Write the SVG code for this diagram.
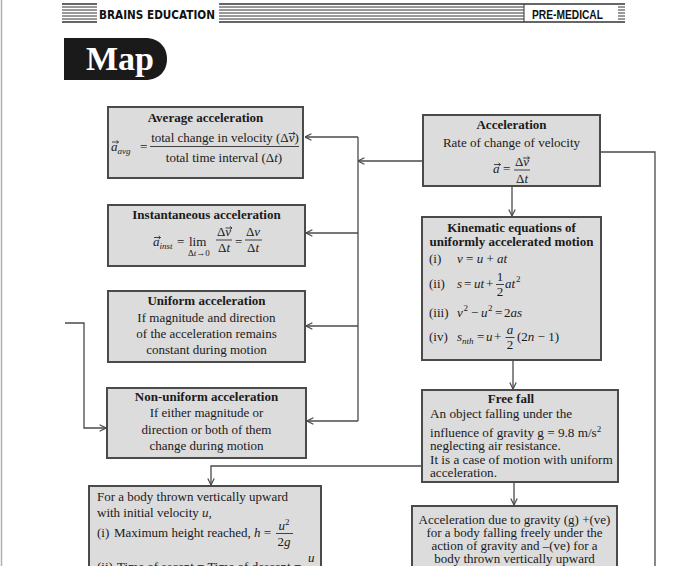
<svg xmlns="http://www.w3.org/2000/svg" xmlns:xlink="http://www.w3.org/1999/xlink" width="687" height="566" viewBox="0 0 687 566">
<style>
.box{fill:#dcdcdc;stroke:#4a4a4a;stroke-width:2}
.t{font-family:"Liberation Serif","Times New Roman",serif;font-size:13px;fill:#1a1a1a}
.ff{font-size:13.2px}
.b{font-weight:bold}
.i{font-style:italic}
.c{text-anchor:middle}
.s9{font-size:9px}
.conn{fill:none;stroke:#4a4a4a;stroke-width:1.3}
.bar{stroke:#1a1a1a;stroke-width:0.8}
.stripe{stroke:#333;stroke-width:1}
</style>
<defs>
<marker id="arr" viewBox="0 0 10 10" refX="10" refY="5" markerWidth="8" markerHeight="8" markerUnits="userSpaceOnUse" orient="auto">
<path d="M2,1 L10,5 L2,9" fill="none" stroke="#4a4a4a" stroke-width="1.5"/>
</marker>
<path id="vec" d="M0,0 H6.5 M4.6,-1.6 L6.5,0 L4.6,1.6" fill="none" stroke="#1a1a1a" stroke-width="0.8"/>
</defs>
<rect width="687" height="566" fill="#fff"/>
<line x1="1.5" y1="0" x2="1.5" y2="566" stroke="#b0b0b0" stroke-width="1.5"/>

<g id="header">
<g class="stripe">
<line x1="62" y1="4" x2="97" y2="4" stroke-width="1.6"/><line x1="62" y1="7" x2="97" y2="7"/><line x1="62" y1="10" x2="97" y2="10"/><line x1="62" y1="13" x2="97" y2="13"/><line x1="62" y1="16" x2="97" y2="16"/><line x1="62" y1="19" x2="97" y2="19"/><line x1="62" y1="22" x2="97" y2="22" stroke-width="1.6"/>
<line x1="219" y1="4" x2="625" y2="4" stroke-width="1.6"/><line x1="219" y1="7" x2="524" y2="7"/><line x1="219" y1="10" x2="524" y2="10"/><line x1="219" y1="13" x2="524" y2="13"/><line x1="219" y1="16" x2="524" y2="16"/><line x1="219" y1="19" x2="524" y2="19"/><line x1="219" y1="22" x2="625" y2="22" stroke-width="1.6"/>
<line x1="524" y1="4" x2="524" y2="22"/>
<line x1="618" y1="7" x2="625" y2="7"/><line x1="618" y1="10" x2="625" y2="10"/><line x1="618" y1="13" x2="625" y2="13"/><line x1="618" y1="16" x2="625" y2="16"/><line x1="618" y1="19" x2="625" y2="19"/>
</g>
<text x="99" y="19" font-family="DejaVu Sans, sans-serif" font-weight="bold" font-size="12" textLength="116" lengthAdjust="spacingAndGlyphs" fill="#111">BRAINS EDUCATION</text>
<text x="532" y="19" font-family="Liberation Sans, Arial, sans-serif" font-weight="bold" font-size="12" textLength="71" lengthAdjust="spacingAndGlyphs" fill="#111">PRE-MEDICAL</text>
</g>

<g id="map-title">
<path d="M64,38 H145 C160,38 167,48 167,59 C167,70 160,80 145,80 H64 Z" fill="#1a1a1a"/>
<text x="86" y="70" font-family="Liberation Serif, serif" font-weight="bold" font-size="34" fill="#fff">Map</text>
</g>

<g id="connectors">
<path class="conn" d="M423,161 H358" marker-end="url(#arr)"/>
<path class="conn" d="M358,137 V421"/>
<path class="conn" d="M358,137 H305" marker-end="url(#arr)"/>
<path class="conn" d="M358,233 H306" marker-end="url(#arr)"/>
<path class="conn" d="M358,326 H306" marker-end="url(#arr)"/>
<path class="conn" d="M358,421 H307" marker-end="url(#arr)"/>
<path class="conn" d="M512,186 V216" marker-end="url(#arr)"/>
<path class="conn" d="M513,360 V389" marker-end="url(#arr)"/>
<path class="conn" d="M514,482 V505" marker-end="url(#arr)"/>
<path class="conn" d="M422,466 H211 V485" marker-end="url(#arr)"/>
<path class="conn" d="M600,152 H655 V566"/>
<path class="conn" d="M65,323 H84 V428 H106" marker-end="url(#arr)"/>
</g>

<g id="average">
<rect class="box" x="108" y="107" width="195" height="71"/>
<text class="t b c" x="205.5" y="122">Average acceleration</text>
<text class="t i" x="111" y="151">a<tspan class="s9" dy="3">avg</tspan></text>
<text class="t" x="140" y="151">=</text>
<text class="t c" x="225" y="142">total change in velocity (Δ<tspan class="i">v</tspan>)</text>
<line class="bar" x1="150" y1="146.5" x2="299" y2="146.5"/>
<text class="t c" x="224" y="162">total time interval (Δ<tspan class="i">t</tspan>)</text>
<use xlink:href="#vec" x="112" y="142"/>
<use xlink:href="#vec" x="288.5" y="133.5"/>
</g>

<g id="instantaneous">
<rect class="box" x="108" y="205" width="197" height="61"/>
<text class="t b c" x="206.5" y="219">Instantaneous acceleration</text>
<text class="t i" x="153" y="246">a<tspan class="s9" dy="3">inst</tspan></text>
<text class="t" x="177" y="246">=</text>
<text class="t" x="189" y="246">lim</text>
<text class="t s9" x="188" y="256">Δ<tspan class="i">t</tspan>→0</text>
<text class="t c" x="224" y="236">Δ<tspan class="i">v</tspan></text>
<line class="bar" x1="216" y1="240" x2="232" y2="240"/>
<text class="t c" x="224" y="252">Δ<tspan class="i">t</tspan></text>
<text class="t" x="235" y="246">=</text>
<text class="t c" x="253" y="236">Δ<tspan class="i">v</tspan></text>
<line class="bar" x1="245" y1="240" x2="262" y2="240"/>
<text class="t c" x="253" y="252">Δ<tspan class="i">t</tspan></text>
<use xlink:href="#vec" x="154" y="237.5"/>
<use xlink:href="#vec" x="225.5" y="228"/>
</g>

<g id="uniform">
<rect class="box" x="108" y="291" width="197" height="71"/>
<text class="t b c" x="206.5" y="305">Uniform acceleration</text>
<text class="t c" x="206.5" y="322">If magnitude and direction</text>
<text class="t c" x="206.5" y="338">of the acceleration remains</text>
<text class="t c" x="206.5" y="354">constant during motion</text>
</g>

<g id="nonuniform">
<rect class="box" x="107" y="388" width="199" height="70"/>
<text class="t b c" x="206.5" y="401">Non-uniform acceleration</text>
<text class="t c" x="206.5" y="417">If either magnitude or</text>
<text class="t c" x="206.5" y="434">direction or both of them</text>
<text class="t c" x="206.5" y="450">change during motion</text>
</g>

<g id="acceleration">
<rect class="box" x="423" y="115" width="177" height="71"/>
<text class="t b c" x="511.5" y="129">Acceleration</text>
<text class="t c" x="511.5" y="147">Rate of change of velocity</text>
<text class="t i" x="493" y="173">a</text>
<text class="t" x="503" y="173">=</text>
<text class="t c" x="522" y="166">Δ<tspan class="i">v</tspan></text>
<line class="bar" x1="514" y1="170" x2="530" y2="170"/>
<text class="t c" x="522" y="183">Δ<tspan class="i">t</tspan></text>
<use xlink:href="#vec" x="494" y="164.5"/>
<use xlink:href="#vec" x="523" y="158"/>
</g>

<g id="kinematic">
<rect class="box" x="422" y="217" width="179" height="143"/>
<text class="t b c" x="511.5" y="232">Kinematic equations of</text>
<text class="t b c" x="511.5" y="246">uniformly accelerated motion</text>
<text class="t" x="429" y="263">(i)</text>
<text class="t" x="457" y="263"><tspan class="i">v</tspan> = <tspan class="i">u</tspan> + <tspan class="i">at</tspan></text>
<text class="t" x="429" y="288">(ii)</text>
<text class="t i" x="457" y="288">s</text>
<text class="t" x="464" y="288">=</text>
<text class="t i" x="474" y="288">ut</text>
<text class="t" x="486" y="288">+</text>
<text class="t c" x="500" y="281">1</text>
<line class="bar" x1="496" y1="284.5" x2="504" y2="284.5"/>
<text class="t c" x="500" y="296">2</text>
<text class="t i" x="505" y="288">at</text>
<text class="t s9" x="516" y="282">2</text>
<text class="t" x="429" y="317">(iii)</text>
<text class="t i" x="457" y="317">v</text>
<text class="t s9" x="463.5" y="311">2</text>
<text class="t" x="471" y="317">−</text>
<text class="t i" x="481" y="317">u</text>
<text class="t s9" x="488" y="311">2</text>
<text class="t" x="495" y="317">=</text>
<text class="t" x="504" y="317">2<tspan class="i">as</tspan></text>
<text class="t" x="429" y="341">(iv)</text>
<text class="t i" x="457" y="341">s<tspan class="s9" dy="3">nth</tspan></text>
<text class="t" x="477" y="341">=</text>
<text class="t i" x="486" y="341">u</text>
<text class="t" x="494" y="341">+</text>
<text class="t i c" x="510" y="334">a</text>
<line class="bar" x1="505.5" y1="337.5" x2="514.5" y2="337.5"/>
<text class="t c" x="510" y="349">2</text>
<text class="t" x="517" y="341">(2<tspan class="i">n</tspan> − 1)</text>
</g>

<g id="freefall">
<rect class="box" x="422" y="390" width="196" height="92"/>
<text class="t b c" x="511" y="403">Free fall</text>
<text class="t ff" x="430" y="418">An object falling under the</text>
<text class="t ff" x="430" y="437">influence of gravity g = 9.8 m/s<tspan class="s9" dy="-5">2</tspan></text>
<text class="t ff" x="430" y="450">neglecting air resistance.</text>
<text class="t ff" x="430" y="464">It is a case of motion with uniform</text>
<text class="t ff" x="430" y="477">acceleration.</text>
</g>

<g id="thrown-up">
<rect class="box" x="89" y="486" width="232" height="95"/>
<text class="t" x="97" y="501">For a body thrown vertically upward</text>
<text class="t" x="97" y="517">with initial velocity <tspan class="i">u</tspan>,</text>
<text class="t" x="97" y="537">(i)<tspan x="114">Maximum height reached,</tspan> <tspan class="i">h</tspan> =</text>
<text class="t c" x="284" y="530"><tspan class="i">u</tspan><tspan class="s9" dy="-5">2</tspan></text>
<line class="bar" x1="276" y1="533.5" x2="293" y2="533.5"/>
<text class="t c" x="284" y="546">2<tspan class="i">g</tspan></text>
<text class="t" x="97" y="571">(ii)<tspan x="117">Time of ascent = Time of descent =</tspan></text>
<text class="t i" x="308" y="562">u</text>
</g>

<g id="gravity-sign">
<rect class="box" x="412" y="506" width="205" height="75"/>
<text class="t c" x="514.5" y="524">Acceleration due to gravity (g) +(ve)</text>
<text class="t c" x="514.5" y="537">for a body falling freely under the</text>
<text class="t c" x="514.5" y="550">action of gravity and –(ve) for a</text>
<text class="t c" x="514.5" y="563">body thrown vertically upward</text>
</g>
</svg>
